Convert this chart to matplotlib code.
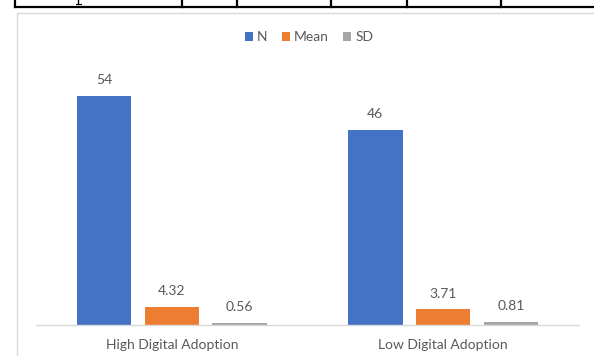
import matplotlib
matplotlib.use("Agg")
import matplotlib.pyplot as plt
from matplotlib.patches import Rectangle, Patch
from matplotlib.lines import Line2D
import numpy as np

categories = ["High Digital Adoption", "Low Digital Adoption"]
series_names = ["N", "Mean", "SD"]
n_values = [54, 46]
mean_values = [4.32, 3.71]
sd_values = [0.56, 0.81]
value_labels = [["54", "46"], ["4.32", "3.71"], ["0.56", "0.81"]]
colors = ["#4472C4", "#ED7D31", "#A5A5A5"]

W, H = 594, 356
fig = plt.figure(figsize=(W / 100, H / 100), dpi=100)
plt.rcParams['font.family'] = ['Lato', 'DejaVu Sans']
text_color = "#595959"

# Surrounding document table fragment (top) and chart border
fig.add_artist(Line2D([15 / W, 1], [1 - 7.3 / H, 1 - 7.3 / H], color="black", lw=1.6))
for vx in [15, 182, 237, 331, 407, 501]:
    fig.add_artist(Line2D([vx / W, vx / W], [1, 1 - 7.3 / H], color="black", lw=1.6))
# descender fragment of a letter from the table above
fig.add_artist(Line2D([78 / W, 78 / W], [1, 1 - 4 / H], color="black", lw=1.0))
fig.add_artist(Line2D([75.5 / W, 80.5 / W], [1 - 4.3 / H, 1 - 4.3 / H], color="black", lw=0.8))
fig.add_artist(Rectangle((17.3 / W, -0.1), 1.2, 1 - 12.7 / H + 0.1, transform=fig.transFigure,
                         fill=False, edgecolor="#D9D9D9", lw=1.0))

ax_left, ax_right = 36, 579
ax_bottom = 325
ymax = 60
ax_top = ax_bottom - ymax * 4.24
ax = fig.add_axes([ax_left / W, 1 - ax_bottom / H, (ax_right - ax_left) / W, (ax_bottom - ax_top) / H])

x = np.arange(len(categories))
width = 0.2
offsets = [-0.25, 0.0, 0.25]
all_series = [n_values, mean_values, sd_values]
for i, (vals, off, c) in enumerate(zip(all_series, offsets, colors)):
    bars = ax.bar(x + off, vals, width, color=c, label=series_names[i], zorder=2)
    for b, lab in zip(bars, value_labels[i]):
        ax.annotate(lab, (b.get_x() + b.get_width() / 2, b.get_height()),
                    xytext=(0, 7.0), textcoords="offset points", ha="center", va="bottom",
                    fontsize=10, color=text_color)

ax.set_xlim(-0.5, 1.5)
ax.set_ylim(0, ymax)
ax.set_yticks([])
ax.set_xticks(x)
ax.set_xticklabels(categories, fontsize=10, color=text_color)
ax.tick_params(axis="x", length=0, pad=10)
for s in ["top", "right", "left"]:
    ax.spines[s].set_visible(False)
ax.spines["bottom"].set_color("#D9D9D9")
ax.spines["bottom"].set_linewidth(1.0)
ax.patch.set_alpha(0)

handles = [Patch(facecolor=c, edgecolor="none") for c in colors]
fig.legend(handles, series_names, loc="center", bbox_to_anchor=(309 / W, 1 - 37 / H),
           ncol=3, frameon=False, fontsize=10, handlelength=0.6, handleheight=0.6,
           handletextpad=0.3, columnspacing=1.0, labelcolor=text_color)

fig.savefig("out.png", dpi=100)
